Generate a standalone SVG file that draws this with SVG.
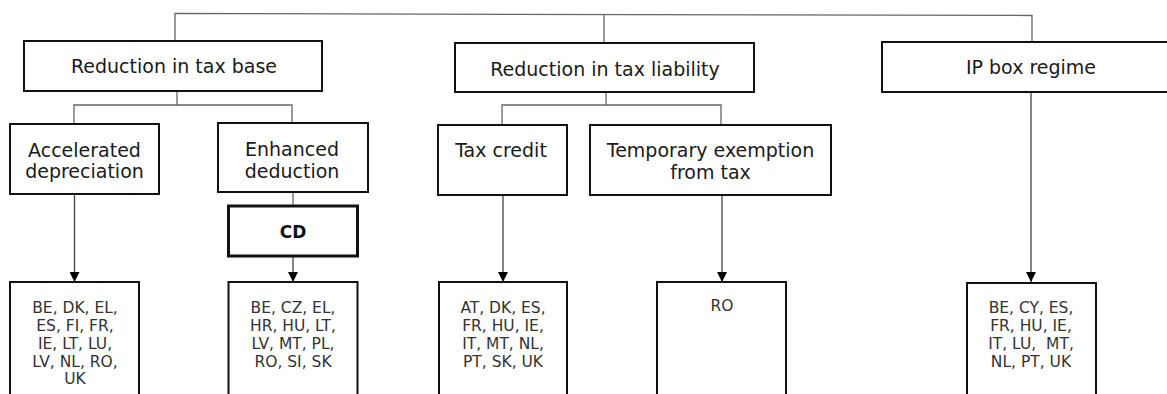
<svg xmlns="http://www.w3.org/2000/svg" width="1167" height="394" viewBox="0 0 1167 394">
  <style>
    .box { fill: #ffffff; stroke: #111111; stroke-width: 2; }
    .bold-box { fill: #ffffff; stroke: #111111; stroke-width: 3; }
    .head { font-family: "DejaVu Sans", Verdana, sans-serif; font-size: 19px; fill: #1a1a1a; text-anchor: middle; }
    .list { font-family: "DejaVu Sans", Verdana, sans-serif; font-size: 15.5px; fill: #333333; text-anchor: middle; }
    .cd { font-family: "DejaVu Sans", Verdana, sans-serif; font-size: 17px; font-weight: bold; fill: #111111; text-anchor: middle; }
    .link { fill: none; stroke: #666666; stroke-width: 1.3; }
    .arrow { fill: none; stroke: #444444; stroke-width: 1.3; marker-end: url(#head); }
  </style>
  <defs>
    <marker id="head" viewBox="0 0 10 10" refX="10" refY="5" markerWidth="10" markerHeight="10" markerUnits="userSpaceOnUse" orient="auto">
      <path d="M0,0 L10,5 L0,10 Z" fill="#000000"/>
    </marker>
  </defs>

  <g id="connectors">
    <!-- top bar -->
    <polyline class="link" points="175,41 175,13.5 1032,15.5 1032,42"/>
    <line class="link" x1="604" y1="14.5" x2="604" y2="43"/>
    <!-- tax base branches -->
    <polyline class="link" points="177,91 177,105 74,105 74,124"/>
    <polyline class="link" points="177,105 292,105 292,123"/>
    <!-- tax liability branches -->
    <polyline class="link" points="606,92 606,105 502,105 502,125"/>
    <polyline class="link" points="606,105 721,105 721,125"/>
    <!-- enhanced deduction to CD -->
    <line class="link" x1="293" y1="192" x2="293" y2="206"/>
    <!-- arrows to country lists -->
    <line class="arrow" x1="74.5" y1="194" x2="74.5" y2="282"/>
    <line class="arrow" x1="293" y1="256" x2="293" y2="282"/>
    <line class="arrow" x1="503" y1="195" x2="503" y2="282"/>
    <line class="arrow" x1="722" y1="195" x2="722" y2="282"/>
    <line class="arrow" x1="1031" y1="92" x2="1031" y2="282"/>
  </g>

  <g id="tax-base">
    <rect class="box" x="24" y="41" width="298" height="50"/>
    <text class="head" x="174" y="72.5">Reduction in tax base</text>
  </g>
  <g id="tax-liability">
    <rect class="box" x="455" y="43" width="299" height="49"/>
    <text class="head" x="605" y="76">Reduction in tax liability</text>
  </g>
  <g id="ip-box">
    <rect class="box" x="882" y="42" width="300" height="50"/>
    <text class="head" x="1031" y="73.5">IP box regime</text>
  </g>

  <g id="accelerated">
    <rect class="box" x="10" y="124" width="149" height="70"/>
    <text class="head" x="84.5" y="156.5">Accelerated</text>
    <text class="head" x="84.5" y="178">depreciation</text>
  </g>
  <g id="enhanced">
    <rect class="box" x="218" y="123" width="150" height="69"/>
    <text class="head" x="292" y="155.5">Enhanced</text>
    <text class="head" x="292" y="177.5">deduction</text>
  </g>
  <g id="cd">
    <rect class="bold-box" x="228.5" y="206" width="129" height="50"/>
    <text class="cd" x="293" y="238">CD</text>
  </g>
  <g id="tax-credit">
    <rect class="box" x="438" y="125" width="129" height="70"/>
    <text class="head" x="501" y="156.5">Tax credit</text>
  </g>
  <g id="exemption">
    <rect class="box" x="590" y="125" width="241" height="70"/>
    <text class="head" x="710.5" y="156.5">Temporary exemption</text>
    <text class="head" x="710.5" y="179">from tax</text>
  </g>

  <g id="list-accelerated">
    <rect class="box" x="10" y="282" width="129" height="130"/>
    <text class="list" x="75" y="312.5">BE, DK, EL,</text>
    <text class="list" x="75" y="330.5">ES, FI, FR,</text>
    <text class="list" x="75" y="348.5">IE, LT, LU,</text>
    <text class="list" x="75" y="366.5">LV, NL, RO,</text>
    <text class="list" x="75" y="384">UK</text>
  </g>
  <g id="list-enhanced">
    <rect class="box" x="228.5" y="282" width="129" height="130"/>
    <text class="list" x="293" y="312.5">BE, CZ, EL,</text>
    <text class="list" x="293" y="330.5">HR, HU, LT,</text>
    <text class="list" x="293" y="348.5">LV, MT, PL,</text>
    <text class="list" x="293" y="366.5">RO, SI, SK</text>
  </g>
  <g id="list-credit">
    <rect class="box" x="439" y="282" width="128" height="130"/>
    <text class="list" x="503" y="312.5">AT, DK, ES,</text>
    <text class="list" x="503" y="330.5">FR, HU, IE,</text>
    <text class="list" x="503" y="348.5">IT, MT, NL,</text>
    <text class="list" x="503" y="366.5">PT, SK, UK</text>
  </g>
  <g id="list-exemption">
    <rect class="box" x="657" y="282" width="129" height="130"/>
    <text class="list" x="722" y="311">RO</text>
  </g>
  <g id="list-ip">
    <rect class="box" x="967" y="283" width="129" height="130"/>
    <text class="list" x="1031" y="312.5">BE, CY, ES,</text>
    <text class="list" x="1031" y="330.5">FR, HU, IE,</text>
    <text class="list" x="1031" y="348.5" xml:space="preserve">IT, LU,  MT,</text>
    <text class="list" x="1031" y="366.5">NL, PT, UK</text>
  </g>
</svg>
